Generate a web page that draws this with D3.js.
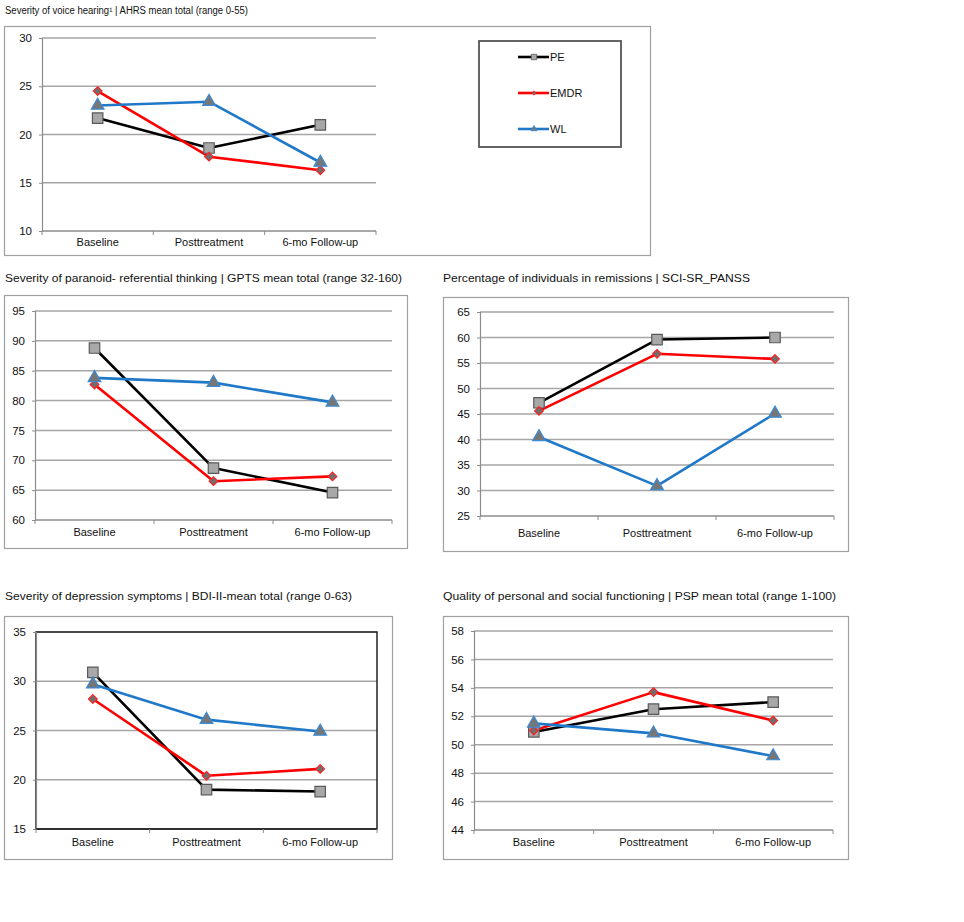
<!DOCTYPE html>
<html><head><meta charset="utf-8">
<script src="https://cdn.jsdelivr.net/npm/d3@7"></script>
<style>
html,body{margin:0;padding:0;background:#fff;}
svg text{font-family:"Liberation Sans",Arial,sans-serif;fill:#111;}
</style></head>
<body>
<svg id="chart" width="964" height="922"></svg>
<script>
// ---------- data ----------
const categories = ["Baseline", "Posttreatment", "6-mo Follow-up"];
const seriesNames = ["PE", "EMDR", "WL"];

const titles = [
  "Severity of voice hearing\u00B9 | AHRS mean total (range 0-55)",
  "Severity of paranoid- referential thinking | GPTS mean total (range 32-160)",
  "Percentage of individuals in remissions | SCI-SR_PANSS",
  "Severity of depression symptoms | BDI-II-mean total (range 0-63)",
  "Quality of personal and social functioning | PSP mean total (range 1-100)"
];

const ahrsPE   = [21.7, 18.6, 21.0];
const ahrsEMDR = [24.5, 17.7, 16.3];
const ahrsWL   = [23.0, 23.4, 17.1];

const gptsPE   = [88.8, 68.7, 64.6];
const gptsEMDR = [82.7, 66.5, 67.3];
const gptsWL   = [83.8, 83.0, 79.7];

const remPE   = [47.2, 59.6, 60.0];
const remEMDR = [45.6, 56.8, 55.8];
const remWL   = [40.5, 30.9, 45.1];

const bdiPE   = [30.9, 19.0, 18.8];
const bdiEMDR = [28.2, 20.4, 21.1];
const bdiWL   = [29.7, 26.1, 24.9];

const pspPE   = [50.9, 52.5, 53.0];
const pspEMDR = [51.0, 53.7, 51.7];
const pspWL   = [51.5, 50.8, 49.2];

const ahrsTicks = [10, 15, 20, 25, 30];
const gptsTicks = [60, 65, 70, 75, 80, 85, 90, 95];
const remTicks  = [25, 30, 35, 40, 45, 50, 55, 60, 65];
const bdiTicks  = [15, 20, 25, 30, 35];
const pspTicks  = [44, 46, 48, 50, 52, 54, 56, 58];

// ---------- layout / style ----------
const colors = {PE: "#000000", EMDR: "#ff0000", WL: "#1f78c8"};
const markerFill = {PE: "#a8a8a8", EMDR: "#6e6e6e", WL: "#767676"};
const markerStroke = {PE: "#5a5a5a", EMDR: "#ff2020", WL: "#3a8ad6"};
const squareDiamond = {
  draw(ctx, size) {
    const r = Math.sqrt(size) / 2 * 1.1;
    ctx.moveTo(0, -r); ctx.lineTo(r, 0); ctx.lineTo(0, r); ctx.lineTo(-r, 0); ctx.closePath();
  }
};
const symbols = {PE: d3.symbolSquare, EMDR: squareDiamond, WL: d3.symbolTriangle};
const symSize = {PE: 110, EMDR: 62, WL: 70};

const panels = [
  {title: titles[0], tx: 5, ty: 14, tw: 243, tfs: 10,
   box: [4, 26, 646, 229], px: [42, 376], py: [38, 231], ticks: ahrsTicks,
   data: [ahrsPE, ahrsEMDR, ahrsWL], catY: 246, legend: true},
  {title: titles[1], tx: 5, ty: 282, tw: 397, tfs: 10.5,
   box: [4, 295, 403, 253], px: [35, 392], py: [311, 520], ticks: gptsTicks,
   data: [gptsPE, gptsEMDR, gptsWL], catY: 536},
  {title: titles[2], tx: 443, ty: 282, tw: 307, tfs: 10.5,
   box: [443, 297, 405, 254], px: [480, 834], py: [312, 516], ticks: remTicks,
   data: [remPE, remEMDR, remWL], catY: 537},
  {title: titles[3], tx: 5, ty: 600, tw: 347, tfs: 10.5,
   box: [4, 616, 388, 243], px: [36, 377], py: [632, 829], ticks: bdiTicks,
   data: [bdiPE, bdiEMDR, bdiWL], catY: 846, frame: true},
  {title: titles[4], tx: 443, ty: 600, tw: 393, tfs: 10.5,
   box: [443, 616, 405, 243], px: [474, 833], py: [631, 830], ticks: pspTicks,
   data: [pspPE, pspEMDR, pspWL], catY: 846}
];

const svg = d3.select("#chart");

panels.forEach(p => {
  const g = svg.append("g");
  g.append("text").attr("x", p.tx).attr("y", p.ty)
    .attr("font-size", p.tfs).attr("textLength", p.tw)
    .attr("lengthAdjust", "spacingAndGlyphs").text(p.title);
  g.append("rect").attr("x", p.box[0] + 0.5).attr("y", p.box[1] + 0.5)
    .attr("width", p.box[2]).attr("height", p.box[3])
    .attr("fill", "none").attr("stroke", "#a0a0a0").attr("stroke-width", 1.2);

  const x = d3.scaleBand().domain(categories).range(p.px).padding(0);
  const y = d3.scaleLinear().domain(d3.extent(p.ticks)).range([p.py[1], p.py[0]]);

  g.append("g").selectAll("line").data(p.ticks.slice(1)).join("line")
    .attr("x1", p.px[0]).attr("x2", p.px[1])
    .attr("y1", d => y(d)).attr("y2", d => y(d))
    .attr("stroke", "#a6a6a6").attr("stroke-width", 1.5);

  if (p.frame) {
    g.append("rect").attr("x", p.px[0]).attr("y", p.py[0])
      .attr("width", p.px[1] - p.px[0]).attr("height", p.py[1] - p.py[0])
      .attr("fill", "none").attr("stroke", "#222").attr("stroke-width", 1.5);
  }

  const yAxis = d3.axisLeft(y).tickValues(p.ticks).tickSize(3).tickPadding(7).tickFormat(d3.format("d"));
  const ya = g.append("g").attr("transform", `translate(${p.px[0]},0)`).call(yAxis);
  ya.select(".domain").attr("stroke", "#8c8c8c").attr("stroke-width", 1.2);
  ya.selectAll(".tick line").attr("stroke", "#8c8c8c");
  ya.selectAll("text").attr("font-size", 11.5).attr("font-family", "Liberation Sans, Arial, sans-serif").attr("fill", "#111");

  const xa = g.append("g");
  xa.append("line").attr("x1", p.px[0]).attr("x2", p.px[1])
    .attr("y1", p.py[1]).attr("y2", p.py[1])
    .attr("stroke", p.frame ? "#222" : "#8c8c8c").attr("stroke-width", 1.3);
  const bounds = categories.map(c => x(c)).concat([x(categories[2]) + x.bandwidth()]);
  xa.selectAll("line.tk").data(bounds).join("line").attr("class", "tk")
    .attr("x1", d => d).attr("x2", d => d)
    .attr("y1", p.py[1]).attr("y2", p.py[1] + 4)
    .attr("stroke", "#8c8c8c");
  xa.selectAll("text").data(categories).join("text")
    .attr("x", d => x(d) + x.bandwidth() / 2).attr("y", p.catY)
    .attr("text-anchor", "middle").attr("font-size", 11).text(d => d);

  const line = d3.line().x((d, i) => x(categories[i]) + x.bandwidth() / 2).y(d => y(d));
  seriesNames.forEach((s, si) => {
    g.append("path").datum(p.data[si]).attr("d", line)
      .attr("fill", "none").attr("stroke", colors[s]).attr("stroke-width", 2.6)
      .attr("stroke-linejoin", "round");
  });
  seriesNames.forEach((s, si) => {
    g.append("g").selectAll("path").data(p.data[si]).join("path")
      .attr("transform", (d, i) => `translate(${x(categories[i]) + x.bandwidth() / 2},${y(d)})`)
      .attr("d", d3.symbol().type(symbols[s]).size(symSize[s]))
      .attr("fill", markerFill[s]).attr("stroke", markerStroke[s]).attr("stroke-width", 1.2);
  });

  if (p.legend) {
    const lg = g.append("g");
    lg.append("rect").attr("x", 479).attr("y", 41).attr("width", 142).attr("height", 106)
      .attr("fill", "#fff").attr("stroke", "#555").attr("stroke-width", 1.8);
    const ly = d3.scalePoint().domain(seriesNames).range([57, 129]);
    seriesNames.forEach(s => {
      lg.append("line").attr("x1", 518).attr("x2", 549).attr("y1", ly(s)).attr("y2", ly(s))
        .attr("stroke", colors[s]).attr("stroke-width", 2.6);
      lg.append("path").attr("transform", `translate(534,${ly(s)})`)
        .attr("d", d3.symbol().type(symbols[s]).size(s === "PE" ? 30 : 16))
        .attr("fill", markerFill[s]).attr("stroke", markerStroke[s]).attr("stroke-width", 0.8);
      lg.append("text").attr("x", 550).attr("y", ly(s) + 4).attr("font-size", 11).text(s);
    });
  }
});
</script>
</body></html>
